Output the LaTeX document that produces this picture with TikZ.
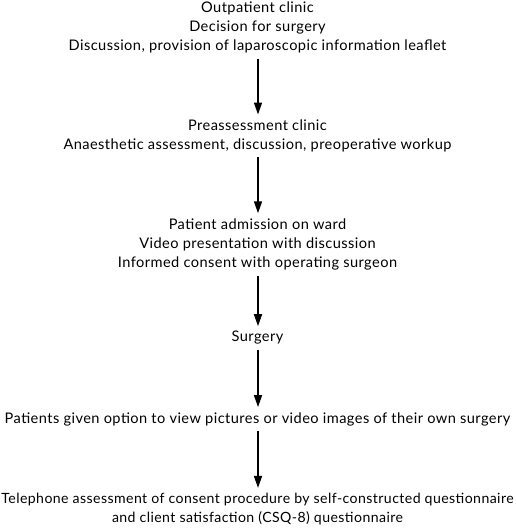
\documentclass[tikz,border=0pt]{standalone}
\usepackage{fontspec}
\setmainfont{Lato}[LetterSpace=3]
\usetikzlibrary{arrows.meta}
\begin{document}
\begin{tikzpicture}[x=1pt,y=1pt,
  stage/.style={align=center,inner sep=0pt,font=\fontsize{14.6}{19.3}\selectfont},
  flow/.style={-{Triangle[length=12pt,width=8pt]},line width=1.6pt,shorten <=5pt,shorten >=5pt}]
\useasboundingbox (0,0) rectangle (515,-528);
\node[stage] (a) at (257.5,-27.5) {Outpatient clinic\\Decision for surgery\\Discussion, provision of laparoscopic information leaflet};
\node[stage] (b) at (257.5,-136) {Preassessment clinic\\Anaesthetic assessment, discussion, preoperative workup};
\node[stage] (c) at (257.5,-244.5) {Patient admission on ward\\Video presentation with discussion\\Informed consent with operating surgeon};
\node[stage] (d) at (257.5,-338) {Surgery};
\node[stage] (e) at (257.5,-419) {Patients given option to view pictures or video images of their own surgery};
\node[stage,font=\fontsize{14.1}{19}\selectfont] (f) at (257.5,-509) {Telephone assessment of consent procedure by self-constructed questionnaire\\and client satisfaction (CSQ-8) questionnaire};
\coordinate (x) at (258,0);
\draw[flow] (a.south -| x) -- (b.north -| x);
\draw[flow] (b.south -| x) -- (c.north -| x);
\draw[flow] (c.south -| x) -- (d.north -| x);
\draw[flow] (d.south -| x) -- (e.north -| x);
\draw[flow] (e.south -| x) -- (f.north -| x);
\end{tikzpicture}
\end{document}
